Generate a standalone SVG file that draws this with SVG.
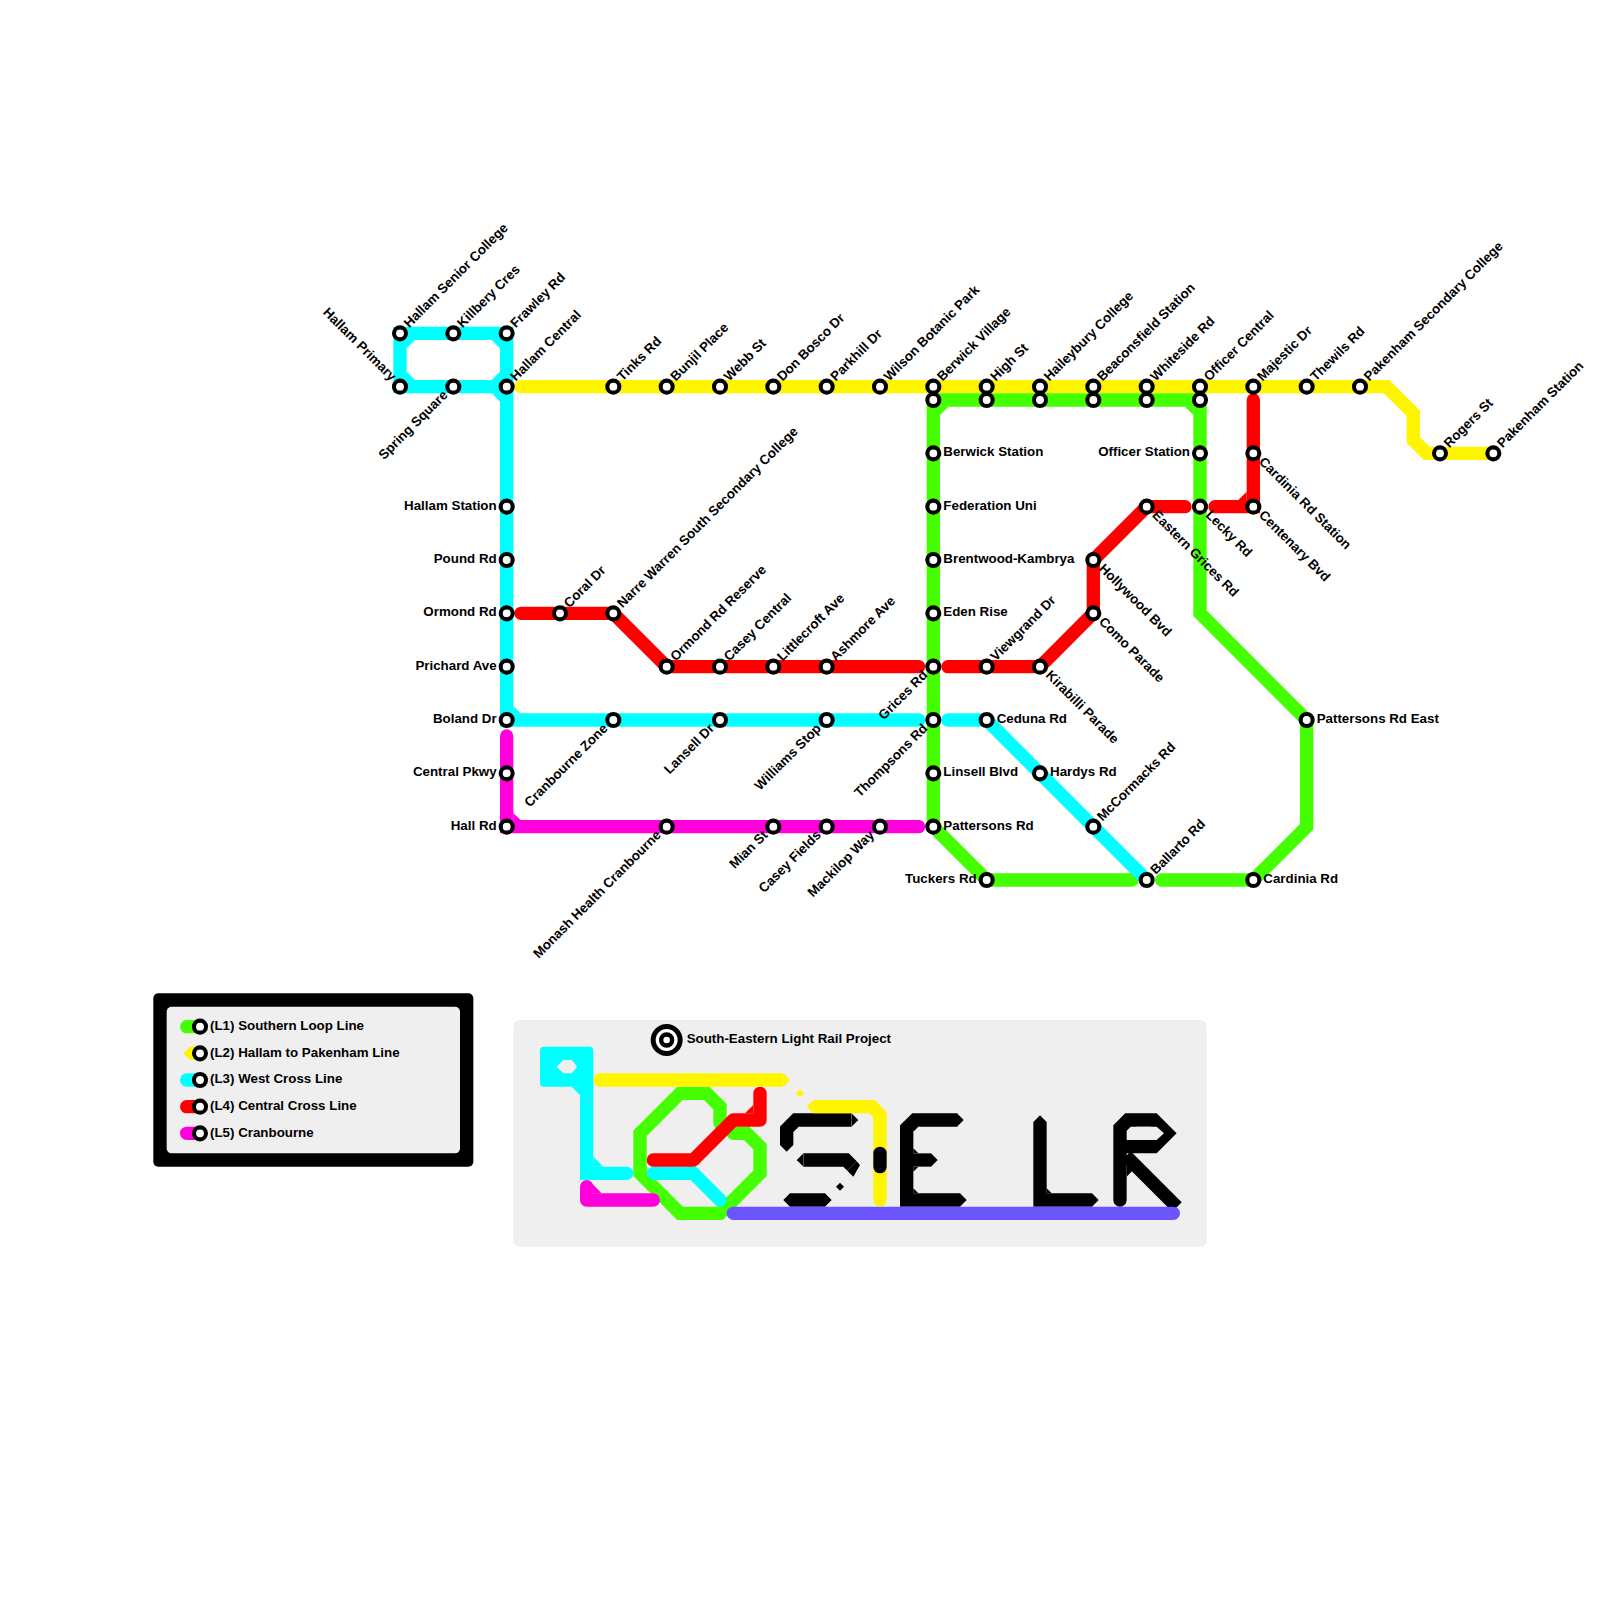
<svg xmlns="http://www.w3.org/2000/svg" width="1600" height="1600" viewBox="0 0 1600 1600">
<style>
text{font-family:"Liberation Sans",Arial,sans-serif;font-weight:bold;font-size:13.33px;fill:#000}
.e{text-anchor:end}
.ln{fill:none;stroke-width:13.33;stroke-linejoin:miter;stroke-linecap:butt}
.r{stroke-linecap:round}
.g{stroke:#44ff00}.y{stroke:#fff500}.c{stroke:#00ffff}.d{stroke:#ff0000}.m{stroke:#ff00dd}.b{stroke:#6a55ff}.k{stroke:#000}
.fg{fill:#44ff00}.fy{fill:#fff500}.fc{fill:#00ffff}.fd{fill:#ff0000}.fm{fill:#ff00dd}.fk{fill:#000}
.s{fill:#fff;stroke:#000;stroke-width:4.1}
.panel{fill:#efefef}
</style>
<defs>
<marker id="tipK" viewBox="0 0 1 2" refX="0" refY="1" markerWidth="0.5" markerHeight="1" orient="auto-start-reverse"><path d="M0,0L1,1L0,2Z" fill="#000"/></marker>
<marker id="tipY" viewBox="0 0 1 2" refX="0" refY="1" markerWidth="0.5" markerHeight="1" orient="auto-start-reverse"><path d="M0,0L1,1L0,2Z" fill="#fff500"/></marker>
</defs>
<g id="connectors">
<path class="ln y r" d="M521,386.67H1386.67L1413.33,413.33V440L1426.67,453.33H1493.33"/>
<path class="ln g r" d="M933.33,400V826.67L986.67,880H1132"/>
<path class="ln g r" d="M933.33,400H1200V613.33L1306.67,720V826.67L1253.33,880H1161.67"/>
<path class="fg" d="M940,406.67H948.33L940,415ZM1185,406.67H1193.33V415Z"/>
<path class="ln d r" d="M521,613.33H613.33L666.67,666.67H918.67"/>
<path class="ln d r" d="M948,666.67H1040L1093.33,613.33V560L1146.67,506.67H1185"/>
<path class="ln d r" d="M1215,506.67H1253.33V400"/>
<path class="fd" d="M1238.33,500H1246.67V491.67Z"/>
<path class="fc" fill-rule="evenodd" d="M393.33,326.67H513.33V393.33H393.33ZM415,340H491.67L500,348.33V371.67L491.67,380H415L406.67,371.67V348.33Z"/>
<path class="ln c r" d="M506.67,386.67V720H918.67"/>
<path class="ln c r" d="M948,720H986.67L1146.67,880"/>
<path class="fc" d="M491.67,393.33H500V401.67ZM513.33,706V713.33H520.67Z"/>
<path class="ln m r" d="M506.67,736V826.67H918.67"/>
<path class="fm" d="M513.33,813V820H520.67Z"/>
</g>
<g id="station-hallam-primary"><circle class="s" cx="400" cy="386.67" r="6"/><text class="e" x="390" y="389.67" transform="rotate(45 400 386.67)">Hallam Primary</text></g>
<g id="station-hallam-senior"><circle class="s" cx="400" cy="333.33" r="6"/><text x="410" y="336.33" transform="rotate(-45 400 333.33)">Hallam Senior College</text></g>
<g id="station-killbery"><circle class="s" cx="453.33" cy="333.33" r="6"/><text x="463.33" y="336.33" transform="rotate(-45 453.33 333.33)">Killbery Cres</text></g>
<g id="station-frawley"><circle class="s" cx="506.67" cy="333.33" r="6"/><text x="516.67" y="336.33" transform="rotate(-45 506.67 333.33)">Frawley Rd</text></g>
<g id="station-spring"><circle class="s" cx="453.33" cy="386.67" r="6"/><text class="e" x="443.33" y="389.67" transform="rotate(-45 453.33 386.67)">Spring Square</text></g>
<g id="station-hallam-central"><circle class="s" cx="506.67" cy="386.67" r="6"/><text x="516.67" y="389.67" transform="rotate(-45 506.67 386.67)">Hallam Central</text></g>
<g id="station-tinks"><circle class="s" cx="613.33" cy="386.67" r="6"/><text x="623.33" y="389.67" transform="rotate(-45 613.33 386.67)">Tinks Rd</text></g>
<g id="station-bunjil"><circle class="s" cx="666.67" cy="386.67" r="6"/><text x="676.67" y="389.67" transform="rotate(-45 666.67 386.67)">Bunjil Place</text></g>
<g id="station-webb"><circle class="s" cx="720" cy="386.67" r="6"/><text x="730" y="389.67" transform="rotate(-45 720 386.67)">Webb St</text></g>
<g id="station-don-bosco"><circle class="s" cx="773.33" cy="386.67" r="6"/><text x="783.33" y="389.67" transform="rotate(-45 773.33 386.67)">Don Bosco Dr</text></g>
<g id="station-parkhill"><circle class="s" cx="826.67" cy="386.67" r="6"/><text x="836.67" y="389.67" transform="rotate(-45 826.67 386.67)">Parkhill Dr</text></g>
<g id="station-wilson"><circle class="s" cx="880" cy="386.67" r="6"/><text x="890" y="389.67" transform="rotate(-45 880 386.67)">Wilson Botanic Park</text></g>
<g id="station-berwick-village"><circle class="s" cx="933.33" cy="386.67" r="6"/><circle class="s" cx="933.33" cy="400" r="6"/><text x="943.33" y="389.67" transform="rotate(-45 933.33 386.67)">Berwick Village</text></g>
<g id="station-high"><circle class="s" cx="986.67" cy="386.67" r="6"/><circle class="s" cx="986.67" cy="400" r="6"/><text x="996.67" y="389.67" transform="rotate(-45 986.67 386.67)">High St</text></g>
<g id="station-haileybury"><circle class="s" cx="1040" cy="386.67" r="6"/><circle class="s" cx="1040" cy="400" r="6"/><text x="1050" y="389.67" transform="rotate(-45 1040 386.67)">Haileybury College</text></g>
<g id="station-beaconsfield"><circle class="s" cx="1093.33" cy="386.67" r="6"/><circle class="s" cx="1093.33" cy="400" r="6"/><text x="1103.33" y="389.67" transform="rotate(-45 1093.33 386.67)">Beaconsfield Station</text></g>
<g id="station-whiteside"><circle class="s" cx="1146.67" cy="386.67" r="6"/><circle class="s" cx="1146.67" cy="400" r="6"/><text x="1156.67" y="389.67" transform="rotate(-45 1146.67 386.67)">Whiteside Rd</text></g>
<g id="station-officer-central"><circle class="s" cx="1200" cy="386.67" r="6"/><circle class="s" cx="1200" cy="400" r="6"/><text x="1210" y="389.67" transform="rotate(-45 1200 386.67)">Officer Central</text></g>
<g id="station-majestic"><circle class="s" cx="1253.33" cy="386.67" r="6"/><text x="1263.33" y="389.67" transform="rotate(-45 1253.33 386.67)">Majestic Dr</text></g>
<g id="station-thewils"><circle class="s" cx="1306.67" cy="386.67" r="6"/><text x="1316.67" y="389.67" transform="rotate(-45 1306.67 386.67)">Thewils Rd</text></g>
<g id="station-pakenham-sec"><circle class="s" cx="1360" cy="386.67" r="6"/><text x="1370" y="389.67" transform="rotate(-45 1360 386.67)">Pakenham Secondary College</text></g>
<g id="station-rogers"><circle class="s" cx="1440" cy="453.33" r="6"/><text x="1450" y="456.33" transform="rotate(-45 1440 453.33)">Rogers St</text></g>
<g id="station-pakenham"><circle class="s" cx="1493.33" cy="453.33" r="6"/><text x="1503.33" y="456.33" transform="rotate(-45 1493.33 453.33)">Pakenham Station</text></g>
<g id="station-hallam"><circle class="s" cx="506.67" cy="506.67" r="6"/><text class="e" x="496.67" y="509.67">Hallam Station</text></g>
<g id="station-pound"><circle class="s" cx="506.67" cy="560" r="6"/><text class="e" x="496.67" y="563">Pound Rd</text></g>
<g id="station-ormond"><circle class="s" cx="506.67" cy="613.33" r="6"/><text class="e" x="496.67" y="616.33">Ormond Rd</text></g>
<g id="station-prichard"><circle class="s" cx="506.67" cy="666.67" r="6"/><text class="e" x="496.67" y="669.67">Prichard Ave</text></g>
<g id="station-boland"><circle class="s" cx="506.67" cy="720" r="6"/><text class="e" x="496.67" y="723">Boland Dr</text></g>
<g id="station-central-pkwy"><circle class="s" cx="506.67" cy="773.33" r="6"/><text class="e" x="496.67" y="776.33">Central Pkwy</text></g>
<g id="station-hall"><circle class="s" cx="506.67" cy="826.67" r="6"/><text class="e" x="496.67" y="829.67">Hall Rd</text></g>
<g id="station-coral"><circle class="s" cx="560" cy="613.33" r="6"/><text x="570" y="616.33" transform="rotate(-45 560 613.33)">Coral Dr</text></g>
<g id="station-narre"><circle class="s" cx="613.33" cy="613.33" r="6"/><text x="623.33" y="616.33" transform="rotate(-45 613.33 613.33)">Narre Warren South Secondary College</text></g>
<g id="station-ormond-reserve"><circle class="s" cx="666.67" cy="666.67" r="6"/><text x="676.67" y="669.67" transform="rotate(-45 666.67 666.67)">Ormond Rd Reserve</text></g>
<g id="station-casey-central"><circle class="s" cx="720" cy="666.67" r="6"/><text x="730" y="669.67" transform="rotate(-45 720 666.67)">Casey Central</text></g>
<g id="station-littlecroft"><circle class="s" cx="773.33" cy="666.67" r="6"/><text x="783.33" y="669.67" transform="rotate(-45 773.33 666.67)">Littlecroft Ave</text></g>
<g id="station-ashmore"><circle class="s" cx="826.67" cy="666.67" r="6"/><text x="836.67" y="669.67" transform="rotate(-45 826.67 666.67)">Ashmore Ave</text></g>
<g id="station-grices"><circle class="s" cx="933.33" cy="666.67" r="6"/><text class="e" x="923.33" y="669.67" transform="rotate(-45 933.33 666.67)">Grices Rd</text></g>
<g id="station-viewgrand"><circle class="s" cx="986.67" cy="666.67" r="6"/><text x="996.67" y="669.67" transform="rotate(-45 986.67 666.67)">Viewgrand Dr</text></g>
<g id="station-kirabilli"><circle class="s" cx="1040" cy="666.67" r="6"/><text x="1050" y="669.67" transform="rotate(45 1040 666.67)">Kirabilli Parade</text></g>
<g id="station-como"><circle class="s" cx="1093.33" cy="613.33" r="6"/><text x="1103.33" y="616.33" transform="rotate(45 1093.33 613.33)">Como Parade</text></g>
<g id="station-hollywood"><circle class="s" cx="1093.33" cy="560" r="6"/><text x="1103.33" y="563" transform="rotate(45 1093.33 560)">Hollywood Bvd</text></g>
<g id="station-eastern-grices"><circle class="s" cx="1146.67" cy="506.67" r="6"/><text x="1156.67" y="509.67" transform="rotate(45 1146.67 506.67)">Eastern Grices Rd</text></g>
<g id="station-lecky"><circle class="s" cx="1200" cy="506.67" r="6"/><text x="1210" y="509.67" transform="rotate(45 1200 506.67)">Lecky Rd</text></g>
<g id="station-centenary"><circle class="s" cx="1253.33" cy="506.67" r="6"/><text x="1263.33" y="509.67" transform="rotate(45 1253.33 506.67)">Centenary Bvd</text></g>
<g id="station-cardinia-stn"><circle class="s" cx="1253.33" cy="453.33" r="6"/><text x="1263.33" y="456.33" transform="rotate(45 1253.33 453.33)">Cardinia Rd Station</text></g>
<g id="station-officer"><circle class="s" cx="1200" cy="453.33" r="6"/><text class="e" x="1190" y="456.33">Officer Station</text></g>
<g id="station-berwick"><circle class="s" cx="933.33" cy="453.33" r="6"/><text x="943.33" y="456.33">Berwick Station</text></g>
<g id="station-federation"><circle class="s" cx="933.33" cy="506.67" r="6"/><text x="943.33" y="509.67">Federation Uni</text></g>
<g id="station-brentwood"><circle class="s" cx="933.33" cy="560" r="6"/><text x="943.33" y="563">Brentwood-Kambrya</text></g>
<g id="station-eden"><circle class="s" cx="933.33" cy="613.33" r="6"/><text x="943.33" y="616.33">Eden Rise</text></g>
<g id="station-cranbourne-zone"><circle class="s" cx="613.33" cy="720" r="6"/><text class="e" x="603.33" y="723" transform="rotate(-45 613.33 720)">Cranbourne Zone</text></g>
<g id="station-lansell"><circle class="s" cx="720" cy="720" r="6"/><text class="e" x="710" y="723" transform="rotate(-45 720 720)">Lansell Dr</text></g>
<g id="station-williams"><circle class="s" cx="826.67" cy="720" r="6"/><text class="e" x="816.67" y="723" transform="rotate(-45 826.67 720)">Williams Stop</text></g>
<g id="station-thompsons"><circle class="s" cx="933.33" cy="720" r="6"/><text class="e" x="923.33" y="723" transform="rotate(-45 933.33 720)">Thompsons Rd</text></g>
<g id="station-ceduna"><circle class="s" cx="986.67" cy="720" r="6"/><text x="996.67" y="723">Ceduna Rd</text></g>
<g id="station-hardys"><circle class="s" cx="1040" cy="773.33" r="6"/><text x="1050" y="776.33">Hardys Rd</text></g>
<g id="station-mccormacks"><circle class="s" cx="1093.33" cy="826.67" r="6"/><text x="1103.33" y="829.67" transform="rotate(-45 1093.33 826.67)">McCormacks Rd</text></g>
<g id="station-ballarto"><circle class="s" cx="1146.67" cy="880" r="6"/><text x="1156.67" y="883" transform="rotate(-45 1146.67 880)">Ballarto Rd</text></g>
<g id="station-pattersons-east"><circle class="s" cx="1306.67" cy="720" r="6"/><text x="1316.67" y="723">Pattersons Rd East</text></g>
<g id="station-cardinia"><circle class="s" cx="1253.33" cy="880" r="6"/><text x="1263.33" y="883">Cardinia Rd</text></g>
<g id="station-tuckers"><circle class="s" cx="986.67" cy="880" r="6"/><text class="e" x="976.67" y="883">Tuckers Rd</text></g>
<g id="station-pattersons"><circle class="s" cx="933.33" cy="826.67" r="6"/><text x="943.33" y="829.67">Pattersons Rd</text></g>
<g id="station-linsell"><circle class="s" cx="933.33" cy="773.33" r="6"/><text x="943.33" y="776.33">Linsell Blvd</text></g>
<g id="station-monash"><circle class="s" cx="666.67" cy="826.67" r="6"/><text class="e" x="656.67" y="829.67" transform="rotate(-45 666.67 826.67)">Monash Health Cranbourne</text></g>
<g id="station-mian"><circle class="s" cx="773.33" cy="826.67" r="6"/><text class="e" x="763.33" y="829.67" transform="rotate(-45 773.33 826.67)">Mian St</text></g>
<g id="station-casey-fields"><circle class="s" cx="826.67" cy="826.67" r="6"/><text class="e" x="816.67" y="829.67" transform="rotate(-45 826.67 826.67)">Casey Fields</text></g>
<g id="station-mackilop"><circle class="s" cx="880" cy="826.67" r="6"/><text class="e" x="870" y="829.67" transform="rotate(-45 880 826.67)">Mackilop Way</text></g>

<g id="legend">
<rect x="153.33" y="993.33" width="320" height="173.33" rx="5" fill="#000"/>
<rect class="panel" x="166.67" y="1006.67" width="293.33" height="146.67" rx="5"/>
<path class="ln g r" d="M186.67,1026.67H200"/>
<path class="ln y" d="M190,1053.33H200" marker-start="url(#tipY)"/>
<path class="ln c r" d="M186.67,1080H200"/>
<path class="ln d r" d="M186.67,1106.67H200"/>
<path class="ln m r" d="M186.67,1133.33H200"/>
<circle class="s" cx="200" cy="1026.67" r="6"/><circle class="s" cx="200" cy="1053.33" r="6"/><circle class="s" cx="200" cy="1080" r="6"/><circle class="s" cx="200" cy="1106.67" r="6"/><circle class="s" cx="200" cy="1133.33" r="6"/>
<text x="210" y="1030">(L1) Southern Loop Line</text>
<text x="210" y="1056.67">(L2) Hallam to Pakenham Line</text>
<text x="210" y="1083.33">(L3) West Cross Line</text>
<text x="210" y="1110">(L4) Central Cross Line</text>
<text x="210" y="1136.67">(L5) Cranbourne</text>
</g>

<g id="logo-panel">
<rect class="panel" x="513.33" y="1020" width="693.33" height="226.67" rx="6"/>
<circle cx="666.67" cy="1040" r="13.5" fill="#fff" stroke="#000" stroke-width="5"/>
<circle cx="666.67" cy="1040" r="5.5" fill="#fff" stroke="#000" stroke-width="4.4"/>
<text x="686.67" y="1043">South-Eastern Light Rail Project</text>
</g>
<g id="logo-art">
<path class="ln g r" d="M720,1123.33V1106.67L706.67,1093.33H680L640,1133.33V1173.33L680,1213.33H720L760,1173.33V1146.67L746.67,1133.33H733.33"/>
<path class="fc" fill-rule="evenodd" d="M544,1046.67H589.33Q593.33,1046.67 593.33,1050.67V1086.67H544Q540,1086.67 540,1082.67V1050.67Q540,1046.67 544,1046.67ZM556.67,1066.67L563.33,1060H571.67L577.33,1066.67L571.67,1073.33H563.33Z"/>
<path class="ln c r" d="M586.67,1086V1173.33H626.67"/>
<path class="fc" d="M571.67,1086.67H580V1095ZM593.33,1156.67V1166.67H603.33Z"/>
<path class="ln c r" d="M653.33,1173.33H693.33L720,1200"/>
<path class="ln m r" d="M586.67,1186.67V1200H653.33" style="stroke-linejoin:round"/>
<path class="fm" d="M589,1180.5L601.67,1193.33H593.33Z"/>
<path class="ln d r" d="M653.33,1160H693.33L733.33,1120H760V1093.33" style="stroke-linejoin:round"/>
<path class="fd" d="M745,1113.33H753.33V1105Z"/>
<path class="ln y" d="M606,1080H783.33" marker-end="url(#tipY)"/>
<circle class="fy" cx="600" cy="1080" r="6.67"/>
<path class="fy" d="M600,1073.33H607V1086.67H600ZM800,1089.33L804,1093.33L800,1097.33L796,1093.33Z"/>
<path class="ln k" d="M851.67,1120H796L786.67,1129.33V1145" marker-start="url(#tipK)" marker-end="url(#tipK)"/>
<path class="ln k" d="M803.33,1160H846L852,1166" marker-start="url(#tipK)"/>
<path class="fk" d="M856.7,1161.3L860,1165L853.33,1176.67L847.3,1170.7ZM840,1182.67L844,1186.67L840,1190.67L836,1186.67Z"/>
<path class="ln k" d="M790,1200H825" marker-start="url(#tipK)" marker-end="url(#tipK)"/>
<path class="ln y" d="M813.33,1106.67H872L880,1115V1200" marker-start="url(#tipY)"/>
<circle class="fy" cx="880" cy="1200" r="6.67"/>
<path class="ln k r" d="M880,1153.33V1166.67"/>
<path class="ln k" d="M957,1120H915L906.67,1128V1200H960" marker-start="url(#tipK)" marker-end="url(#tipK)"/>
<path class="ln k" d="M913,1160H931" marker-end="url(#tipK)"/>
<path class="fk" d="M913.33,1148.33V1153.33H918.33ZM913.33,1171.67V1166.67H918.33ZM913.33,1188.33V1193.33H918.33ZM913.33,1131.67V1126.67H918.33Z"/>
<path class="ln k" d="M1040,1122V1200H1092" marker-start="url(#tipK)" marker-end="url(#tipK)"/>
<path class="fk" d="M1046.67,1188.33V1193.33H1051.67Z"/>
<path class="ln k r" d="M1120,1200V1128L1128,1120H1153.9L1167.2,1133.33L1153.9,1146.67H1121"/>
<path class="ln k" d="M1126,1156L1177,1207"/>
<path class="fk" d="M1126.67,1160V1176.67L1135,1168Z"/>
<path class="panel" d="M1129.33,1133.33L1136.67,1126.67H1156.67L1164,1133.33L1156.67,1140H1136.67Z"/>
<path class="ln b r" d="M733.33,1213.33H1173.33"/>
</g>
</svg>
